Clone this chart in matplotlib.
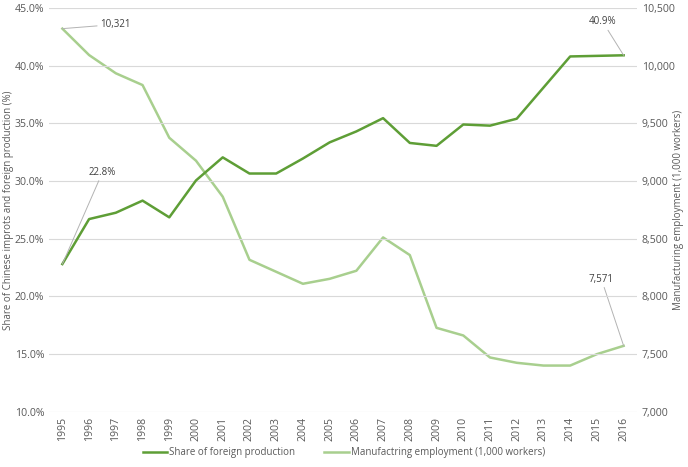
import matplotlib.pyplot as plt
from matplotlib.ticker import FuncFormatter

years = [str(y) for y in range(1995, 2017)]

share_foreign = [22.8, 26.7, 27.25, 28.3, 26.85, 30.05, 32.05, 30.65, 30.65, 31.95, 33.35,
                 34.3, 35.45, 33.3, 33.05, 34.9, 34.8, 35.4, 38.1, 40.8, 40.85, 40.9]

mfg_employment = [10321, 10092, 9934, 9832, 9375, 9176, 8864, 8317, 8213, 8109, 8152,
                  8222, 8511, 8358, 7727, 7661, 7470, 7424, 7400, 7400, 7499, 7571]

dark_green = "#5e9e36"
light_green = "#a8cf8e"
grey_text = "#595959"

plt.rcParams["font.family"] = ["Open Sans", "DejaVu Sans"]
plt.rcParams["font.size"] = 7

fig = plt.figure(figsize=(6.88, 4.67), dpi=100)
ax = fig.add_axes([49 / 688, 1 - 411.7 / 467, (637 - 49) / 688, (411.7 - 8) / 467])
ax2 = ax.twinx()

x = list(range(len(years)))
l1, = ax.plot(x, share_foreign, color=dark_green, lw=1.8, label="Share of foreign production", zorder=3)
l2, = ax2.plot(x, mfg_employment, color=light_green, lw=1.8, label="Manufactring employment (1,000 workers)")

ax.set_xlim(-0.5, len(years) - 0.5)
ax.set_ylim(10, 45)
ax.set_yticks(range(10, 46, 5))
ax.yaxis.set_major_formatter(FuncFormatter(lambda v, p: f"{v:.1f}%"))
ax2.set_ylim(7000, 10500)
ax2.set_yticks(range(7000, 10501, 500))
ax2.yaxis.set_major_formatter(FuncFormatter(lambda v, p: f"{int(v):,}"))

ax.set_xticks(x)
ax.set_xticklabels(years, rotation=90)
ax.grid(axis="y", color="#d9d9d9", lw=0.8)
ax.set_axisbelow(True)
ax.set_zorder(ax2.get_zorder() + 1)
ax.patch.set_visible(False)

for a in (ax, ax2):
    for s in a.spines.values():
        s.set_visible(False)
    a.tick_params(length=0, colors=grey_text, labelsize=7.6)

ax.set_ylabel("Share of Chinese improts and foreign production (%)", color=grey_text, fontsize=7)
ax2.set_ylabel("Manufacturing employment (1,000 workers)", color=grey_text, fontsize=7)
ax.yaxis.set_label_coords(-0.060, 0.5)
ax2.yaxis.set_label_coords(1.062, 0.5)

lead = dict(arrowstyle="-", color="#b3b3b3", lw=0.7, shrinkA=0, shrinkB=0)
ax2.annotate(f"{mfg_employment[0]:,}", xy=(0, mfg_employment[0]), xytext=(27, 3),
             textcoords="offset points", va="center", ha="left", color="#404040",
             arrowprops=lead)
ax.annotate(f"{share_foreign[0]}%", xy=(0, share_foreign[0]), xytext=(19, 66),
            textcoords="offset points", va="center", ha="left", color="#404040",
            arrowprops=lead)
ax.annotate(f"{share_foreign[-1]}%", xy=(len(years) - 1, share_foreign[-1]), xytext=(-15, 24),
            textcoords="offset points", va="center", ha="center", color="#404040",
            arrowprops=lead)
ax2.annotate(f"{mfg_employment[-1]:,}", xy=(len(years) - 1, mfg_employment[-1]), xytext=(-7, 48),
             textcoords="offset points", va="center", ha="right", color="#404040",
             arrowprops=lead)

fig.legend(handles=[l1, l2], loc="lower center", bbox_to_anchor=(0.5, 0.0), ncol=2,
           frameon=False, fontsize=7, labelcolor=grey_text, handlelength=2.5,
           handletextpad=0.2, columnspacing=3)

fig.savefig("out.png", dpi=100)
